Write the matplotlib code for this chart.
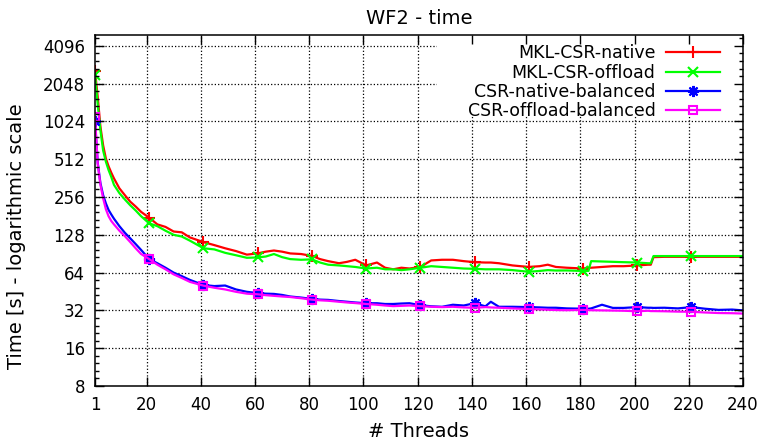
import numpy as np
import matplotlib
matplotlib.use('Agg')
from matplotlib import pyplot as plt
from matplotlib.patches import Rectangle
from matplotlib.ticker import FixedLocator, NullFormatter

# thread counts sampled from the curves
threads = [1, 2, 3, 4, 5, 6, 7, 8,
           10, 12, 14, 16, 18,
           21, 24, 27, 30, 33, 36,
           41, 45, 49, 53, 57,
           61, 64, 67, 70, 73, 77,
           81, 84, 87, 91, 94, 97,
           101, 105, 108, 111, 114, 117,
           121, 125, 129, 133, 137,
           141, 145, 147, 150, 155,
           161, 165, 168, 171, 175,
           181, 183, 184, 188, 192, 196,
           201, 205, 206, 207, 211, 216,
           221, 226, 231, 236, 240]

mkl_native = [2594, 1600, 930, 660, 520, 450, 400, 360,
              300, 265, 235, 215, 195,
              175, 155, 148, 136, 134, 122,
              112, 106, 100, 95, 89,
              91, 94, 96, 94, 91, 90,
              87, 82, 79, 76, 78, 81,
              73, 77, 70, 68, 70, 69,
              71, 80, 81, 81, 79,
              77.5, 77, 77, 76, 73,
              71, 72, 74, 71, 70,
              69, 70, 70, 71, 72, 72,
              73, 74, 74, 85, 85.5, 85.5,
              85.5, 85.5, 85.5, 85.5, 85.5]

mkl_offload = [2400, 1400, 870, 600, 490, 420, 370, 320,
               275, 245, 220, 200, 180,
               158, 150, 138, 128, 124, 115,
               100, 98, 92, 88, 84,
               84.5, 86, 90, 85, 82, 81,
               81.6, 77, 74, 73, 72, 71,
               69, 70, 68, 68, 67, 68,
               70, 72, 71, 70, 69,
               68.6, 68, 68, 68, 67,
               65, 66, 67, 66.5, 66.6,
               66, 66, 79, 78.5, 78, 77.5,
               77, 76, 76, 86.7, 86.7, 86.7,
               86.7, 86.7, 86.7, 86.7, 86.7]

csr_native = [1037, 480, 330, 265, 228, 202, 186, 172,
              150, 133, 120, 108, 97,
              82, 76, 70, 64, 60, 56,
              51, 50, 50.5, 47, 45,
              44, 43.5, 43.3, 42.5, 41.3, 40.5,
              39.5, 39, 38.8, 38, 37.5, 37,
              36.5, 36.5, 36, 36, 36.3, 36.5,
              35.2, 34.5, 34.2, 35.5, 35,
              36.5, 34.5, 37.5, 34.2, 34.2,
              34, 33.8, 33.6, 33.6, 33.2,
              33, 33, 33.2, 35.5, 33.5, 33.5,
              34, 33.6, 33.6, 33.5, 33.6, 33.2,
              34, 33, 32.3, 32.5, 32]

csr_offload = [1116, 470, 320, 250, 205, 180, 165, 155,
               138, 125, 112, 100, 90,
               82, 74, 68, 62, 58, 54,
               50.4, 48.5, 47, 45, 43.5,
               43, 42.3, 41.8, 41.3, 40.9, 40,
               39, 38.5, 38.2, 37.5, 37, 36.6,
               36, 35.5, 35, 34.6, 34.8, 35,
               34.6, 34.2, 34, 34.2, 33.8,
               33.6, 34, 33.8, 33.6, 33.2,
               32.8, 32.6, 32.4, 32.2, 32.1,
               32.3, 32.2, 32.1, 32, 31.9, 31.8,
               31.5, 31.8, 31.6, 31.6, 31.5, 31.3,
               31.2, 30.8, 30.5, 30.4, 30.2]

labels = ['MKL-CSR-native', 'MKL-CSR-offload', 'CSR-native-balanced', 'CSR-offload-balanced']
xticks = [1, 20, 40, 60, 80, 100, 120, 140, 160, 180, 200, 220, 240]
yticks = [8, 16, 32, 64, 128, 256, 512, 1024, 2048, 4096]

fig = plt.figure(figsize=(7.65, 4.43), dpi=100)
ax = fig.add_axes([0.1242, 0.1287, 0.847, 0.7923])

# dotted grid drawn by hand so the key box can sit on top of it
ax.hlines(yticks[1:], 1, 240, colors='black', linestyles=':', linewidth=0.9, zorder=1)
ax.vlines(xticks[1:-1], 8, 5000, colors='black', linestyles=':', linewidth=0.9, zorder=1)
ax.add_patch(Rectangle((0.528, 0.77), 0.47, 0.229, transform=ax.transAxes,
                       facecolor='white', edgecolor='none', zorder=1.2))

mark_idx = [threads.index(t) for t in range(1, 241, 20)]
styles = [('#ff0000', '+', 8, 'full'),
          ('#00ff00', 'x', 7, 'full'),
          ('#0000ff', (8, 2, 0), 8, 'full'),
          ('#ff00ff', 's', 6, 'none')]
for vals, lab, (col, mk, ms, fill) in zip([mkl_native, mkl_offload, csr_native, csr_offload], labels, styles):
    ax.plot(threads, vals, color=col, lw=1.6, marker=mk, ms=ms, mew=1.5,
            markevery=mark_idx, fillstyle=fill, label=lab, zorder=2)

ax.set_axisbelow(False)
ax.set_yscale('log', base=2)
ax.set_xlim(1, 240)
ax.set_ylim(8, 5000)
ax.set_xticks(xticks)
ax.set_xticklabels([str(t) for t in xticks])
ax.set_yticks(yticks)
ax.set_yticklabels([str(t) for t in yticks])
minors = [2 ** (n + k / 5) for n in range(3, 13) for k in range(1, 5)]
ax.yaxis.set_minor_locator(FixedLocator(minors))
ax.yaxis.set_minor_formatter(NullFormatter())
ax.xaxis.set_minor_locator(FixedLocator([]))

ax.tick_params(which='major', direction='in', length=6.5, width=1, top=True, right=True,
               labelsize=12, pad=7)
ax.tick_params(which='minor', direction='in', length=3.2, width=1, top=True, right=True)
for s in ax.spines.values():
    s.set_linewidth(1.1)
    s.set_zorder(3)

ax.set_title('WF2 - time', fontsize=14, pad=8)
ax.set_xlabel('# Threads', fontsize=14, labelpad=6)
ax.set_ylabel('Time [s] - logarithmic scale', fontsize=14)
ax.yaxis.set_label_coords(-0.106, 0.427)

leg = ax.legend(loc='upper right', bbox_to_anchor=(0.975, 0.993), frameon=False,
                markerfirst=False, fontsize=12.5, handlelength=3.1, labelspacing=0.07,
                borderaxespad=0.1, borderpad=0.3, handletextpad=0.6)
leg.set_zorder(4)

fig.savefig('out.png', dpi=100)
